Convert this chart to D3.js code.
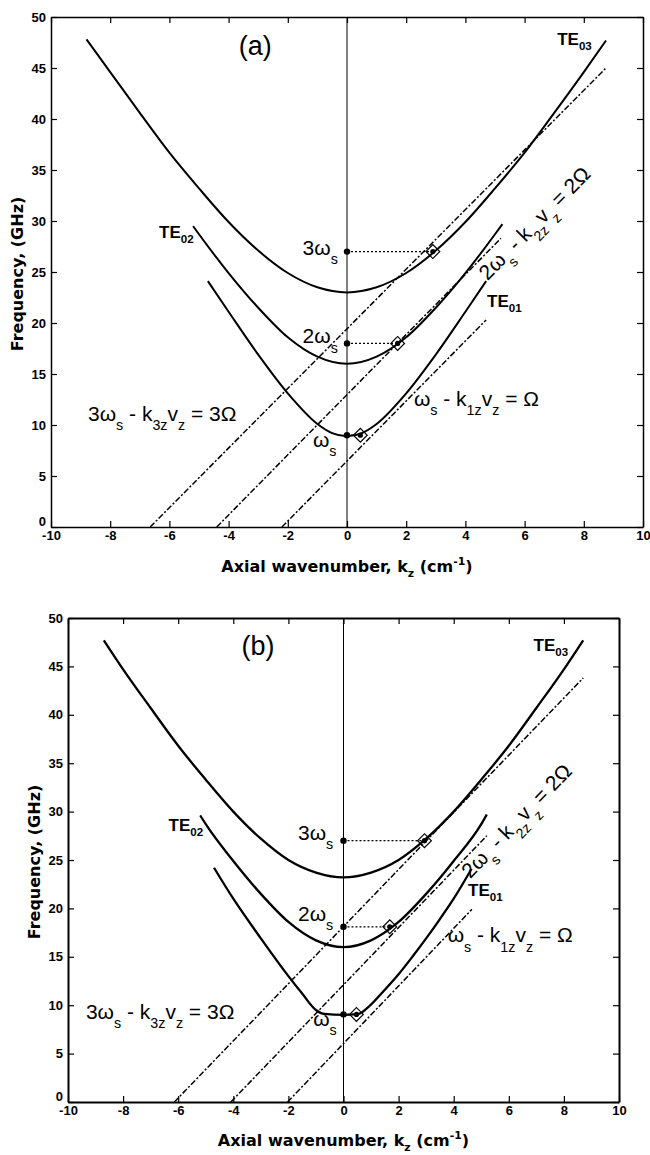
<!DOCTYPE html>
<html>
<head>
<meta charset="utf-8">
<style>
  body { margin: 0; background: #fff; }
  svg { display: block; }
  .tick-label { font: bold 13px "Liberation Sans", Arial, sans-serif; fill: #000; }
  .axis-title { font: bold 16px "DejaVu Sans", "Liberation Sans", sans-serif; }
  .anno { font: 21px "Liberation Sans", Arial, sans-serif; }
  .mode { font: bold 17px "Liberation Sans", Arial, sans-serif; }
  .panel-tag { font: 27px "Liberation Sans", Arial, sans-serif; }
</style>
</head>
<body>
<svg width="650" height="1155"></svg>

<script src="https://d3js.org/d3.v7.min.js"></script>
<script>

// Axis ticks
const kTicks = [-10, -8, -6, -4, -2, 0, 2, 4, 6, 8, 10];
const fTicks = [0, 5, 10, 15, 20, 25, 30, 35, 40, 45, 50];

// Waveguide modes, panel (a)  [k_z (cm^-1), f (GHz)]
const te01a = [[-4.7, 24.1], [-4, 21.1], [-3, 16.9], [-2, 13.1], [-1, 10.1], [-0.5, 9.2], [0, 8.9],
               [0.5, 9.2], [1, 10.1], [2, 13.1], [3, 16.9], [4, 21.1], [4.7, 24.1]];
const te02a = [[-5.2, 29.5], [-5, 28.7], [-4, 24.9], [-3, 21.5], [-2, 18.6], [-1, 16.7], [0, 16.0],
               [1, 16.7], [2, 18.6], [3, 21.5], [4, 24.9], [5, 28.7], [5.25, 29.7]];
const te03a = [[-8.8, 47.8], [-8, 44.6], [-7, 40.6], [-6, 36.7], [-5, 33.2], [-4, 29.9], [-3, 27.1],
               [-2, 24.9], [-1, 23.5], [0, 23.0], [1, 23.5], [2, 24.9], [3, 27.1], [4, 29.9],
               [5, 33.2], [6, 36.7], [7, 40.6], [8, 44.6], [8.75, 47.7]];

// Beam lines n*w_s - k*v_z = n*Omega, panel (a)
const beam1a = [[-2.2, 0], [4.7, 20.3]];
const beam2a = [[-4.4, 0], [5.2, 28.3]];
const beam3a = [[-6.65, 0], [8.75, 45.0]];

// Harmonics w_s, 2w_s, 3w_s and where they hit the modes, panel (a)
const harmA = [9, 18, 27];
const resKa = [0.45, 1.71, 2.9];

// Waveguide modes, panel (b)
const te01b = [[-4.7, 24.2], [-4, 21.0], [-3, 16.9], [-2, 13.0], [-1.5, 11.2], [-1, 9.5], [-0.7, 9.1],
               [0, 9.0], [0.55, 9.1], [0.9, 9.8], [1.5, 11.6], [2, 13.2], [2.5, 15.0], [3, 16.9],
               [3.5, 18.9], [4, 21.0], [4.65, 24.1]];
const te02b = [[-5.2, 29.6], [-5, 28.7], [-4, 24.9], [-3, 21.5], [-2, 18.6], [-1, 16.7], [0, 16.0],
               [1, 16.7], [2, 18.6], [3, 21.5], [4, 24.9], [5, 28.7], [5.2, 29.7]];
const te03b = [[-8.7, 47.7], [-8, 44.7], [-7, 40.7], [-6, 36.8], [-5, 33.3], [-4, 30.0], [-3, 27.2],
               [-2, 25.0], [-1, 23.7], [0, 23.2], [1, 23.7], [2, 25.0], [3, 27.2], [4, 30.0],
               [5, 33.3], [6, 36.8], [7, 40.7], [8, 44.7], [8.7, 47.7]];

const beam1b = [[-2.03, 0], [4.66, 19.9]];
const beam2b = [[-4.09, 0], [5.2, 27.5]];
const beam3b = [[-6.14, 0], [8.7, 43.8]];

const harmB = [9.05, 18.1, 27.0];
const resKb = [0.47, 1.68, 2.94];

const svg = d3.select("svg");

// text with sub/superscripts: parts = [[text, "sub"|"sup"|undefined], ...]
function rich(text, parts, size, subDrop = 0.45) {
  let shift = 0;
  parts.forEach(([t, kind]) => {
    const target = kind === "sub" ? size * subDrop : kind === "sup" ? -size * 0.42 : 0;
    text.append("tspan")
      .attr("dy", target - shift)
      .attr("font-size", kind ? size * 0.68 : size)
      .text(t);
    shift = target;
  });
  return text;
}

const panels = [
  {
    tag: "(a)", left: 51, right: 643, top: 17, bottom: 527, frame: 1.5, curveW: 2,
    modes: [te01a, te02a, te03a], beams: [beam1a, beam2a, beam3a], harm: harmA, resK: resKa,
    xTitleY: 572, yTitleX: 17,
    tagPos: [-3.1, 46.3],
    te03Pos: [7.1, 47.25], te02Pos: [-6.35, 28.3], te01Pos: [4.73, 21.6],
    h3Pos: [-1.5, 26.7], h2Pos: [-1.5, 18.0], h1Pos: [-1.15, 7.85],
    b3Pos: [-8.75, 10.4], b1Pos: [2.26, 11.9], b2Pos: [4.75, 24.1]
  },
  {
    tag: "(b)", left: 68, right: 619, top: 618, bottom: 1102, frame: 2, curveW: 2.3,
    modes: [te01b, te02b, te03b], beams: [beam1b, beam2b, beam3b], harm: harmB, resK: resKb,
    xTitleY: 1146, yTitleX: 34,
    tagPos: [-3.1, 46.2],
    te03Pos: [6.9, 46.6], te02Pos: [-6.35, 28.0], te01Pos: [4.52, 21.3],
    h3Pos: [-1.65, 27.1], h2Pos: [-1.65, 18.75], h1Pos: [-1.1, 7.9],
    b3Pos: [-9.35, 8.6], b1Pos: [3.78, 16.5], b2Pos: [4.6, 23.0]
  }
];

panels.forEach(p => {
  const x = d3.scaleLinear().domain([-10, 10]).range([p.left, p.right]);
  const y = d3.scaleLinear().domain([0, 50]).range([p.bottom, p.top]);
  const g = svg.append("g");

  // frame + inward ticks on all sides
  const styleAxis = (sel) => {
    sel.select(".domain").attr("stroke", "#000").attr("stroke-width", p.frame);
    sel.selectAll(".tick line").attr("stroke", "#000").attr("stroke-width", 1.2);
    sel.selectAll(".tick text").attr("class", "tick-label").attr("font-family", null).attr("font-size", null);
  };
  const plain = d => String(d);
  g.append("g").attr("transform", `translate(0,${p.bottom})`)
    .call(d3.axisBottom(x).tickValues(kTicks).tickFormat(plain).tickSizeInner(-6).tickSizeOuter(0).tickPadding(4))
    .call(styleAxis);
  g.append("g").attr("transform", `translate(0,${p.top})`)
    .call(d3.axisTop(x).tickValues(kTicks).tickSizeInner(-6).tickSizeOuter(0).tickFormat(""))
    .call(styleAxis);
  const left = g.append("g").attr("transform", `translate(${p.left},0)`)
    .call(d3.axisLeft(y).tickValues(fTicks).tickFormat(plain).tickSizeInner(-6).tickSizeOuter(0).tickPadding(5))
    .call(styleAxis);
  left.selectAll(".tick text").filter(d => d === 0).attr("dy", "-0.15em");
  g.append("g").attr("transform", `translate(${p.right},0)`)
    .call(d3.axisRight(y).tickValues(fTicks).tickSizeInner(-6).tickSizeOuter(0).tickFormat(""))
    .call(styleAxis);

  // k = 0 line
  g.append("line")
    .attr("x1", x(0)).attr("x2", x(0)).attr("y1", y(0)).attr("y2", y(50))
    .attr("stroke", "#000").attr("stroke-width", 1);

  // beam lines
  const lin = d3.line().x(d => x(d[0])).y(d => y(d[1]));
  g.selectAll(".beam").data(p.beams).join("path")
    .attr("class", "beam")
    .attr("d", lin)
    .attr("fill", "none").attr("stroke", "#000").attr("stroke-width", 1.5)
    .attr("stroke-dasharray", "6,2,2,2");

  // waveguide modes
  const smooth = d3.line().x(d => x(d[0])).y(d => y(d[1])).curve(d3.curveMonotoneX);
  g.selectAll(".mode-curve").data(p.modes).join("path")
    .attr("class", "mode-curve")
    .attr("d", smooth)
    .attr("fill", "none").attr("stroke", "#000").attr("stroke-width", p.curveW);

  // harmonics: dotted guide, dot on axis, diamond on mode
  const res = p.harm.map((h, i) => ({ h, k: p.resK[i] }));
  g.selectAll(".guide").data(res).join("line")
    .attr("x1", x(0)).attr("x2", d => x(d.k)).attr("y1", d => y(d.h)).attr("y2", d => y(d.h))
    .attr("stroke", "#000").attr("stroke-width", 1.2).attr("stroke-dasharray", "2,2");
  g.selectAll(".hdot").data(res).join("circle")
    .attr("cx", x(0)).attr("cy", d => y(d.h)).attr("r", 3.2).attr("fill", "#000");
  g.selectAll(".rdot").data(res).join("circle")
    .attr("cx", d => x(d.k)).attr("cy", d => y(d.h)).attr("r", 2.6).attr("fill", "#000");
  g.selectAll(".diamond").data(res).join("path")
    .attr("d", d3.symbol().type(d3.symbolSquare).size(95))
    .attr("transform", d => `translate(${x(d.k)},${y(d.h)}) rotate(45)`)
    .attr("fill", "none").attr("stroke", "#000").attr("stroke-width", 1.2);

  // labels
  const at = (pos) => g.append("text").attr("x", x(pos[0])).attr("y", y(pos[1]));
  at(p.tagPos).attr("class", "panel-tag").attr("text-anchor", "middle").text(p.tag);
  rich(at(p.te03Pos).attr("class", "mode"), [["TE"], ["03", "sub"]], 17, 0.3);
  rich(at(p.te02Pos).attr("class", "mode"), [["TE"], ["02", "sub"]], 17, 0.3);
  rich(at(p.te01Pos).attr("class", "mode"), [["TE"], ["01", "sub"]], 17, 0.3);
  rich(at(p.h3Pos).attr("class", "anno"), [["3ω"], ["s", "sub"]], 21);
  rich(at(p.h2Pos).attr("class", "anno"), [["2ω"], ["s", "sub"]], 21);
  rich(at(p.h1Pos).attr("class", "anno"), [["ω"], ["s", "sub"]], 21);
  rich(at(p.b3Pos).attr("class", "anno"),
    [["3ω"], ["s", "sub"], [" - k"], ["3z", "sub"], ["v"], ["z", "sub"], [" = 3Ω"]], 21);
  rich(at(p.b1Pos).attr("class", "anno"),
    [["ω"], ["s", "sub"], [" - k"], ["1z", "sub"], ["v"], ["z", "sub"], [" = Ω"]], 21);

  // rotated label parallel to the beam lines
  const b = p.beams[1];
  const ang = Math.atan2(y(b[1][1]) - y(b[0][1]), x(b[1][0]) - x(b[0][0])) * 180 / Math.PI;
  rich(g.append("text").attr("class", "anno")
      .attr("transform", `translate(${x(p.b2Pos[0])},${y(p.b2Pos[1])}) rotate(${ang})`),
    [["2ω"], ["s", "sub"], [" - k"], ["2z", "sub"], ["v"], ["z", "sub"], [" = 2Ω"]], 21);

  // axis titles
  rich(g.append("text").attr("class", "axis-title").attr("text-anchor", "middle")
      .attr("x", (p.left + p.right) / 2).attr("y", p.xTitleY),
    [["Axial wavenumber, k"], ["z", "sub"], [" (cm"], ["-1", "sup"], [")"]], 16, 0.3);
  g.append("text").attr("class", "axis-title").attr("text-anchor", "middle")
    .attr("font-size", 15)
    .attr("transform", `translate(${p.yTitleX},${(p.top + p.bottom) / 2 + 2}) rotate(-90)`)
    .attr("dy", "0.35em")
    .text("Frequency, (GHz)");
});

</script>
</body>
</html>
